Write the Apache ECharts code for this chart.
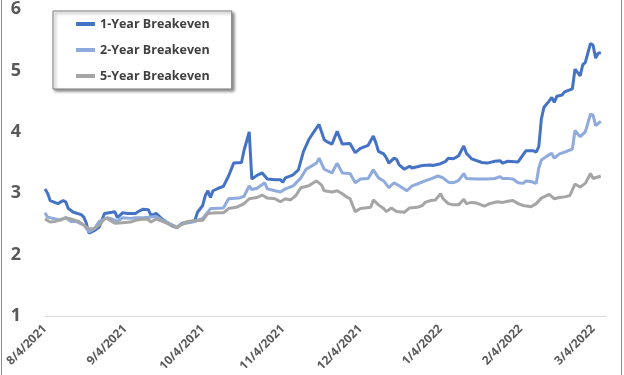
<!DOCTYPE html>
<html>
<head>
<meta charset="utf-8">
<script src="https://cdn.jsdelivr.net/npm/echarts@6/dist/echarts.min.js"></script>
<style>html,body{margin:0;padding:0;background:#fff}#c{width:624px;height:375px}</style>
</head>
<body>
<div id="c"></div>
<script>
const seriesNames = ['1-Year Breakeven', '2-Year Breakeven', '5-Year Breakeven'];
const monthTicks = ['2021-08-04','2021-09-04','2021-10-04','2021-11-04','2021-12-04','2022-01-04','2022-02-04','2022-03-04'];
const xRange = ['2021-08-04', '2022-03-09'];
const yTicks = [1, 2, 3, 4, 5, 6];

const oneYear = [['2021-08-04',3.07],['2021-08-05',3.00],['2021-08-06',2.88],['2021-08-09',2.83],['2021-08-11',2.88],['2021-08-12',2.86],['2021-08-13',2.75],['2021-08-15',2.69],['2021-08-18',2.65],['2021-08-19',2.61],['2021-08-20',2.51],['2021-08-21',2.35],['2021-08-23',2.39],['2021-08-25',2.45],['2021-08-26',2.56],['2021-08-27',2.67],['2021-08-30',2.69],['2021-08-31',2.70],['2021-09-01',2.60],['2021-09-03',2.68],['2021-09-05',2.67],['2021-09-08',2.67],['2021-09-09',2.70],['2021-09-11',2.74],['2021-09-13',2.73],['2021-09-14',2.64],['2021-09-16',2.67],['2021-09-18',2.59],['2021-09-22',2.47],['2021-09-24',2.44],['2021-09-26',2.51],['2021-09-30',2.54],['2021-10-01',2.56],['2021-10-02',2.69],['2021-10-04',2.80],['2021-10-05',2.96],['2021-10-06',3.04],['2021-10-07',2.93],['2021-10-08',3.04],['2021-10-10',3.08],['2021-10-12',3.11],['2021-10-14',3.28],['2021-10-16',3.49],['2021-10-19',3.50],['2021-10-20',3.70],['2021-10-22',4.00],['2021-10-23',3.23],['2021-10-25',3.29],['2021-10-27',3.33],['2021-10-29',3.23],['2021-11-01',3.22],['2021-11-03',3.22],['2021-11-04',3.18],['2021-11-05',3.25],['2021-11-08',3.30],['2021-11-10',3.38],['2021-11-12',3.68],['2021-11-14',3.87],['2021-11-16',4.00],['2021-11-18',4.12],['2021-11-20',3.87],['2021-11-21',3.84],['2021-11-23',3.80],['2021-11-25',4.01],['2021-11-27',3.80],['2021-11-30',3.81],['2021-12-02',3.66],['2021-12-04',3.73],['2021-12-07',3.78],['2021-12-09',3.93],['2021-12-10',3.82],['2021-12-11',3.68],['2021-12-13',3.64],['2021-12-14',3.58],['2021-12-15',3.49],['2021-12-17',3.57],['2021-12-18',3.55],['2021-12-19',3.46],['2021-12-21',3.39],['2021-12-23',3.44],['2021-12-24',3.41],['2021-12-26',3.43],['2021-12-28',3.45],['2021-12-31',3.46],['2022-01-01',3.45],['2022-01-04',3.48],['2022-01-06',3.52],['2022-01-07',3.57],['2022-01-09',3.56],['2022-01-11',3.61],['2022-01-13',3.77],['2022-01-14',3.65],['2022-01-16',3.56],['2022-01-20',3.50],['2022-01-22',3.49],['2022-01-25',3.52],['2022-01-27',3.53],['2022-01-28',3.49],['2022-01-30',3.52],['2022-02-03',3.51],['2022-02-04',3.57],['2022-02-06',3.69],['2022-02-09',3.69],['2022-02-10',3.67],['2022-02-11',3.76],['2022-02-12',4.21],['2022-02-13',4.40],['2022-02-15',4.50],['2022-02-16',4.56],['2022-02-17',4.48],['2022-02-18',4.58],['2022-02-20',4.60],['2022-02-21',4.65],['2022-02-24',4.70],['2022-02-25',5.02],['2022-02-27',4.91],['2022-02-28',5.09],['2022-03-01',5.13],['2022-03-03',5.44],['2022-03-04',5.41],['2022-03-05',5.20],['2022-03-06',5.28],['2022-03-07',5.29]];

const twoYear = [['2021-08-04',2.68],['2021-08-05',2.61],['2021-08-08',2.58],['2021-08-10',2.56],['2021-08-12',2.60],['2021-08-14',2.54],['2021-08-16',2.54],['2021-08-19',2.48],['2021-08-21',2.37],['2021-08-23',2.42],['2021-08-25',2.54],['2021-08-28',2.60],['2021-08-30',2.58],['2021-09-01',2.54],['2021-09-03',2.60],['2021-09-06',2.59],['2021-09-08',2.60],['2021-09-11',2.60],['2021-09-13',2.61],['2021-09-16',2.62],['2021-09-18',2.57],['2021-09-23',2.47],['2021-09-24',2.44],['2021-09-26',2.50],['2021-09-30',2.53],['2021-10-01',2.54],['2021-10-04',2.59],['2021-10-05',2.64],['2021-10-07',2.75],['2021-10-08',2.75],['2021-10-12',2.76],['2021-10-14',2.91],['2021-10-18',2.92],['2021-10-20',2.95],['2021-10-22',3.12],['2021-10-23',3.06],['2021-10-25',3.08],['2021-10-28',3.17],['2021-10-29',3.07],['2021-11-01',3.04],['2021-11-03',3.02],['2021-11-05',3.07],['2021-11-08',3.12],['2021-11-11',3.25],['2021-11-13',3.39],['2021-11-17',3.49],['2021-11-18',3.57],['2021-11-20',3.39],['2021-11-23',3.33],['2021-11-25',3.49],['2021-11-27',3.33],['2021-11-30',3.32],['2021-12-02',3.17],['2021-12-04',3.23],['2021-12-07',3.24],['2021-12-09',3.38],['2021-12-11',3.25],['2021-12-13',3.20],['2021-12-15',3.09],['2021-12-17',3.17],['2021-12-19',3.12],['2021-12-22',3.04],['2021-12-24',3.12],['2021-12-26',3.15],['2021-12-29',3.20],['2021-12-31',3.23],['2022-01-03',3.28],['2022-01-05',3.25],['2022-01-07',3.18],['2022-01-09',3.17],['2022-01-11',3.21],['2022-01-13',3.32],['2022-01-14',3.24],['2022-01-18',3.23],['2022-01-22',3.23],['2022-01-25',3.24],['2022-01-27',3.27],['2022-01-28',3.24],['2022-01-30',3.24],['2022-02-01',3.23],['2022-02-03',3.17],['2022-02-05',3.16],['2022-02-06',3.20],['2022-02-08',3.19],['2022-02-10',3.16],['2022-02-11',3.41],['2022-02-12',3.54],['2022-02-14',3.60],['2022-02-16',3.65],['2022-02-17',3.57],['2022-02-19',3.64],['2022-02-21',3.67],['2022-02-24',3.72],['2022-02-25',4.02],['2022-02-27',3.92],['2022-03-01',4.00],['2022-03-03',4.29],['2022-03-04',4.27],['2022-03-05',4.10],['2022-03-07',4.17]];

const fiveYear = [['2021-08-04',2.58],['2021-08-06',2.53],['2021-08-08',2.54],['2021-08-12',2.60],['2021-08-14',2.58],['2021-08-17',2.54],['2021-08-19',2.48],['2021-08-21',2.42],['2021-08-23',2.42],['2021-08-25',2.48],['2021-08-27',2.58],['2021-08-28',2.59],['2021-08-31',2.51],['2021-09-03',2.52],['2021-09-06',2.53],['2021-09-08',2.56],['2021-09-11',2.58],['2021-09-13',2.57],['2021-09-14',2.53],['2021-09-16',2.58],['2021-09-18',2.55],['2021-09-24',2.44],['2021-09-28',2.54],['2021-10-01',2.55],['2021-10-04',2.56],['2021-10-06',2.67],['2021-10-09',2.68],['2021-10-12',2.68],['2021-10-14',2.75],['2021-10-17',2.77],['2021-10-20',2.83],['2021-10-22',2.91],['2021-10-25',2.93],['2021-10-27',2.97],['2021-10-29',2.92],['2021-11-01',2.91],['2021-11-03',2.86],['2021-11-05',2.91],['2021-11-07',2.89],['2021-11-09',2.96],['2021-11-11',3.09],['2021-11-14',3.12],['2021-11-17',3.20],['2021-11-19',3.13],['2021-11-20',3.04],['2021-11-23',3.02],['2021-11-25',3.04],['2021-11-27',2.99],['2021-11-29',2.93],['2021-11-30',2.91],['2021-12-02',2.70],['2021-12-04',2.75],['2021-12-08',2.77],['2021-12-09',2.89],['2021-12-11',2.81],['2021-12-13',2.75],['2021-12-14',2.70],['2021-12-16',2.76],['2021-12-18',2.70],['2021-12-21',2.69],['2021-12-23',2.76],['2021-12-26',2.77],['2021-12-28',2.80],['2021-12-29',2.85],['2021-12-31',2.88],['2022-01-02',2.89],['2022-01-04',2.99],['2022-01-05',2.91],['2022-01-07',2.83],['2022-01-09',2.81],['2022-01-11',2.81],['2022-01-13',2.90],['2022-01-14',2.83],['2022-01-16',2.85],['2022-01-18',2.84],['2022-01-21',2.79],['2022-01-23',2.83],['2022-01-26',2.86],['2022-01-28',2.85],['2022-01-30',2.87],['2022-02-01',2.88],['2022-02-03',2.83],['2022-02-05',2.80],['2022-02-08',2.78],['2022-02-10',2.83],['2022-02-12',2.92],['2022-02-15',2.98],['2022-02-17',2.91],['2022-02-19',2.93],['2022-02-21',2.94],['2022-02-23',2.96],['2022-02-25',3.15],['2022-02-27',3.10],['2022-03-01',3.16],['2022-03-03',3.32],['2022-03-04',3.24],['2022-03-07',3.28]];

const colors = ['#4472C4', '#8FAADC', '#A5A5A5'];
const fontFam = '"Open Sans", "Noto Sans", sans-serif';
const toTime = s => echarts.time.parse(s).getTime();
const toPairs = arr => arr.map(d => [toTime(d[0]), d[1]]);

const chart = echarts.init(document.getElementById('c'), null, {renderer: 'canvas'});
chart.setOption({
  backgroundColor: '#ffffff',
  animation: false,
  color: colors,
  grid: {left: 45, right: 18, top: 3, bottom: 59, containLabel: false},
  legend: {
    orient: 'vertical',
    left: 53, top: 11,
    data: seriesNames,
    icon: 'rect',
    itemWidth: 19, itemHeight: 4,
    itemGap: 10,
    padding: [5, 22, 5, 23],
    backgroundColor: '#ffffff',
    borderColor: '#7f7f7f', borderWidth: 1,
    shadowColor: 'rgba(0,0,0,0.45)', shadowBlur: 3, shadowOffsetX: 2, shadowOffsetY: 2,
    textStyle: {color: '#404040', fontFamily: fontFam, fontWeight: 'bold', fontSize: 12.5, lineHeight: 16},
    selectedMode: false
  },
  xAxis: {
    type: 'value',
    min: toTime(xRange[0]), max: toTime(xRange[1]),
    axisLine: {show: true, onZero: false, lineStyle: {color: '#d9d9d9', width: 1}},
    axisTick: {show: false},
    splitLine: {show: false},
    axisLabel: {
      customValues: monthTicks.map(toTime),
      rotate: 45, margin: 11,
      color: '#595959', fontFamily: fontFam, fontWeight: 'bold', fontSize: 12,
      hideOverlap: false,
      formatter: function (v) { return echarts.time.format(v, '{M}/{d}/{yyyy}', false); }
    }
  },
  yAxis: {
    type: 'value', min: yTicks[0], max: yTicks[yTicks.length - 1], interval: 1,
    axisLine: {show: false}, axisTick: {show: false}, splitLine: {show: false},
    axisLabel: {color: '#595959', fontFamily: fontFam, fontWeight: 'bold', fontSize: 18, margin: 24}
  },
  series: [
    {name: seriesNames[0], type: 'line', data: toPairs(oneYear), showSymbol: false, symbol: 'none', lineStyle: {width: 3, color: colors[0]}},
    {name: seriesNames[1], type: 'line', data: toPairs(twoYear), showSymbol: false, symbol: 'none', lineStyle: {width: 3, color: colors[1]}},
    {name: seriesNames[2], type: 'line', data: toPairs(fiveYear), showSymbol: false, symbol: 'none', lineStyle: {width: 3, color: colors[2]}}
  ],
  graphic: [{
    type: 'rect', silent: true, z: 100,
    shape: {x: 1.5, y: -10, width: 620, height: 400},
    style: {fill: 'none', stroke: '#8c8c8c', lineWidth: 1}
  }]
});
</script>
</body>
</html>
